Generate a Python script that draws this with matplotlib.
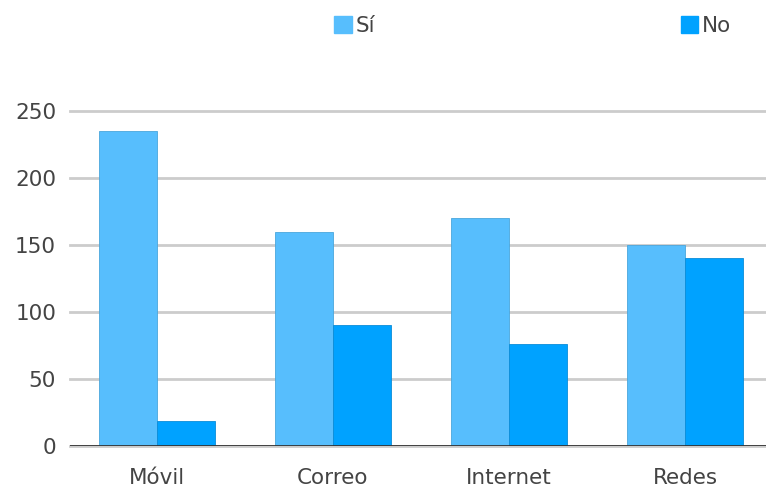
import numpy as np
import matplotlib
matplotlib.use("Agg")
import matplotlib.pyplot as plt
from matplotlib.patches import Patch

categories = ["Móvil", "Correo", "Internet", "Redes"]
si_values = [235, 160, 170, 150]
no_values = [19, 90, 76, 140]
y_ticks = [0, 50, 100, 150, 200, 250]

plt.rcParams['font.family'] = ['DejaVu Sans']

fig = plt.figure(figsize=(7.66, 4.88), dpi=100)
ax = fig.add_axes([70/766, 1 - 446/488, 1 - 70/766, (446 - 111)/488])

x = np.arange(len(categories))
w = 0.33
ax.bar(x - w/2, si_values, w, color="#57BEFD", edgecolor="#4aa6dc", linewidth=0.6, zorder=3, label="Sí")
ax.bar(x + w/2, no_values, w, color="#00A2FF", edgecolor="#0a8cd8", linewidth=0.6, zorder=3, label="No")

ax.set_xlim(-0.494, 3.46)
ax.set_ylim(0, 250)
ax.set_yticks(y_ticks)
ax.set_xticks(x)
ax.set_xticklabels(categories)
ax.tick_params(axis='both', length=0, labelsize=15.5, colors="#444444")
ax.tick_params(axis='y', pad=10)
ax.tick_params(axis='x', pad=16)
ax.grid(axis='y', color="#cccccc", linewidth=2, zorder=0, clip_on=False)
for s in ax.spines.values():
    s.set_visible(False)
ax.axhline(0, color="#333333", linewidth=2, zorder=4)

handles = [Patch(color="#57BEFD"), Patch(color="#00A2FF")]
fig.legend(handles[:1], ["Sí"], loc="center", bbox_to_anchor=(355/766, 1 - 26/488),
           frameon=False, fontsize=15.5, handlelength=0.8, handleheight=0.8, handletextpad=0.2,
           labelcolor="#444444")
fig.legend(handles[1:], ["No"], loc="center", bbox_to_anchor=(706/766, 1 - 26/488),
           frameon=False, fontsize=15.5, handlelength=0.8, handleheight=0.8, handletextpad=0.2,
           labelcolor="#444444")

fig.savefig("out.png", dpi=100)
